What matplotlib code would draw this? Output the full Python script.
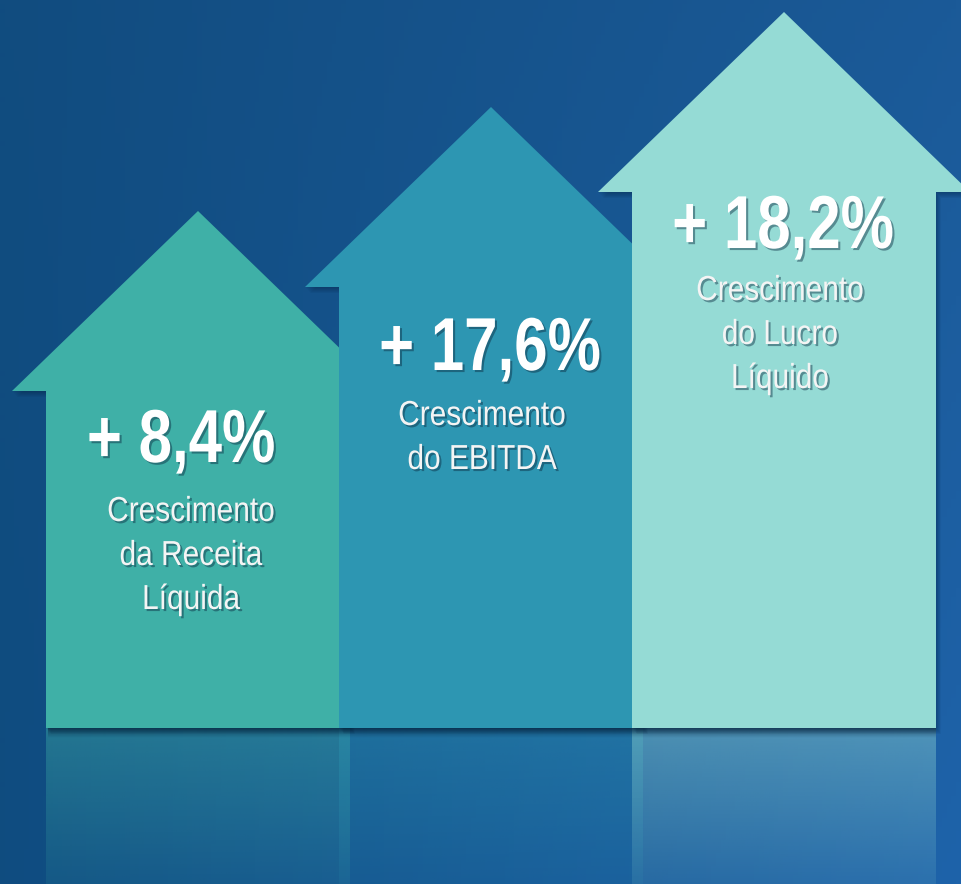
import numpy as np
import matplotlib
matplotlib.use("Agg")
import matplotlib.pyplot as plt
from matplotlib.patches import Polygon
from matplotlib.path import Path
from matplotlib.transforms import Affine2D
import matplotlib.patheffects as pe

# data
values = ["+ 8,4%", "+ 17,6%", "+ 18,2%"]
labels = ["Crescimento\nda Receita\nLíquida",
          "Crescimento\ndo EBITDA",
          "Crescimento\ndo Lucro\nLíquido"]

# layout (pixel coordinates, y down)
W, H = 961, 884
centers = [198, 491, 784]
tips = [211, 107, 12]
base = 728
shaft_hw, barb_hw, head_h = 152, 186, 180
colors = ["#3fb0a7", "#2d96b2", "#95dbd5"]
value_pos = [(181, 462), (490, 370), (783, 248)]
label_pos = [(191, 521), (482, 425), (780, 300)]
line_gap = 44

plt.rcParams['font.family'] = ['Liberation Sans', 'DejaVu Sans']


class Narrow(pe.AbstractPathEffect):
    """Squeeze text horizontally (Arial Narrow look) and add a drop shadow."""

    def __init__(self, sx, shadow=(1.5, -1.5), shadow_color='#0a2a40', shadow_alpha=0.45):
        super().__init__()
        self.sx = sx
        self.shadow = shadow
        self.shadow_rgb = matplotlib.colors.to_rgb(shadow_color)
        self.shadow_alpha = shadow_alpha

    def draw_path(self, renderer, gc, tpath, affine, rgbFace=None):
        v = tpath.vertices
        if tpath.codes is not None:
            v = v[tpath.codes != Path.CLOSEPOLY]
        d = affine.transform(v)
        cx = 0.5 * (d[:, 0].min() + d[:, 0].max())
        squeeze = affine + Affine2D().translate(-cx, 0).scale(self.sx, 1).translate(cx, 0)
        ox = renderer.points_to_pixels(self.shadow[0])
        oy = renderer.points_to_pixels(self.shadow[1])
        gc0 = renderer.new_gc()
        gc0.copy_properties(gc)
        gc0.set_alpha(self.shadow_alpha)
        gc0.set_linewidth(0)
        renderer.draw_path(gc0, tpath, squeeze + Affine2D().translate(ox, oy), self.shadow_rgb)
        gc0.restore()
        renderer.draw_path(gc, tpath, squeeze, rgbFace)


fig = plt.figure(figsize=(W / 100, H / 100), dpi=100)
ax = fig.add_axes([0, 0, 1, 1])
ax.set_xlim(0, W)
ax.set_ylim(H, 0)
ax.axis('off')

# background gradient
tl = np.array([17, 76, 127]) / 255
tr = np.array([27, 90, 152]) / 255
bl = np.array([15, 76, 128]) / 255
br = np.array([30, 99, 170]) / 255
gx = np.linspace(0, 1, 200)[None, :, None]
gy = np.linspace(0, 1, 200)[:, None, None]
bg = (1 - gy) * ((1 - gx) * tl + gx * tr) + gy * ((1 - gx) * bl + gx * br)
ax.imshow(bg, extent=[0, W, H, 0], aspect='auto', zorder=0)


def arrow_pts(cx, ty):
    return [(cx - shaft_hw, base), (cx - shaft_hw, ty + head_h), (cx - barb_hw, ty + head_h),
            (cx, ty), (cx + barb_hw, ty + head_h), (cx + shaft_hw, ty + head_h),
            (cx + shaft_hw, base)]


for i, (cx, ty, col) in enumerate(zip(centers, tips, colors)):
    z = 2 + i * 2
    pts = np.array(arrow_pts(cx, ty), dtype=float)
    # soft shadow
    for k in range(1, 7):
        ax.add_patch(Polygon(pts + [k * 0.8, k * 1.0], closed=True, fc='#04213d',
                             ec='none', alpha=0.07, zorder=z))
    ax.add_patch(Polygon(pts, closed=True, fc=col, ec='none', zorder=z + 1))

    # reflection below
    rgb = np.array(matplotlib.colors.to_rgb(col))
    refl = np.zeros((100, 1, 4))
    refl[:, 0, :3] = rgb
    refl[:, 0, 3] = np.linspace(0.42, 0.12, 100)
    ax.imshow(refl, extent=[cx - shaft_hw, cx + shaft_hw, H, base], aspect='auto',
              zorder=1 + i * 0.1, interpolation='bilinear')

# dark shadow under the bottom edge
sh = np.zeros((30, 1, 4))
sh[:, 0, :3] = np.array([4, 30, 55]) / 255
sh[:, 0, 3] = np.linspace(0.55, 0.0, 30)
ax.imshow(sh, extent=[centers[0] - shaft_hw + 2, centers[-1] + shaft_hw, base + 10, base],
          aspect='auto', zorder=1.5, interpolation='bilinear')

for i in range(3):
    vx, vy = value_pos[i]
    ax.text(vx, vy, values[i], ha='center', va='baseline', fontsize=54,
            fontweight='bold', color='white', zorder=10, path_effects=[Narrow(0.80)])
    lx, ly = label_pos[i]
    for j, line in enumerate(labels[i].split("\n")):
        ax.text(lx, ly + j * line_gap, line, ha='center', va='baseline', fontsize=25,
                color='#f4f4f4', zorder=10, path_effects=[Narrow(0.86)])

fig.savefig("out.png", dpi=100)
